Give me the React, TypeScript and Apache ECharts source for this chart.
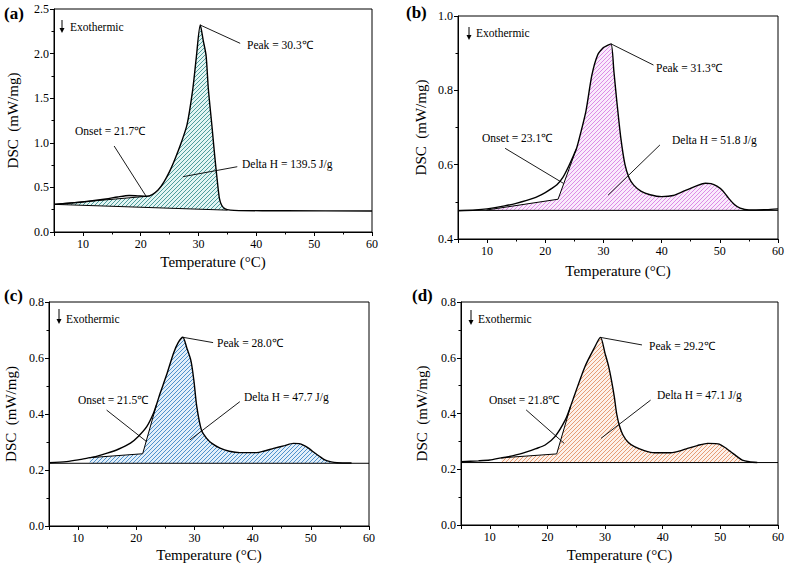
import React, { useEffect, useRef } from "react";
import * as echarts from "echarts";

type P = [number, number];

const SERIF = "'Liberation Serif', 'Times New Roman', serif";

// ---------- Panel (a) ----------
const curveA: P[] = [
  [5, 0.31], [8, 0.325], [11, 0.345], [14, 0.37], [16, 0.393], [18, 0.41], [19.5, 0.405],
  [21, 0.4], [22, 0.42], [23, 0.47], [24, 0.56], [25, 0.68], [26, 0.83], [27, 1.0],
  [28, 1.2], [29, 1.6], [29.6, 1.95], [30.3, 2.32], [30.8, 2.15], [31.3, 1.98], [31.7, 1.6],
  [32.3, 1.2], [32.8, 0.85], [33.2, 0.6], [33.6, 0.38], [34, 0.3], [34.6, 0.26],
  [35.5, 0.245], [37, 0.24], [45, 0.238], [60, 0.235],
];
const baseA: P[] = [[5, 0.31], [35, 0.245]];
const onsetA: P[] = [[5, 0.31], [21, 0.4]];
const fillEndA = 34.6;
const leadersA: P[][] = [
  [[30.3, 2.32], [37.2, 2.115]],
  [[15.4, 0.964], [20.9, 0.404]],
  [[36.7, 0.732], [27.3, 0.62]],
];

// ---------- Panel (b) ----------
const curveB: P[] = [
  [5, 0.476], [8, 0.478], [10, 0.481], [13, 0.489], [15, 0.496], [18, 0.51], [20, 0.525],
  [21, 0.535], [22, 0.546], [23, 0.565], [24, 0.595], [25, 0.63], [25.4, 0.645], [26, 0.68],
  [27, 0.745], [28, 0.84], [29, 0.895], [30, 0.915], [30.6, 0.92], [31.3, 0.925],
  [31.8, 0.85], [32.3, 0.77], [33, 0.67], [33.7, 0.6], [34.4, 0.565], [35.2, 0.545],
  [36.5, 0.528], [38, 0.519], [40, 0.514], [42, 0.517], [44, 0.53], [46, 0.543],
  [47.5, 0.55], [48.5, 0.549], [49.5, 0.542], [50.5, 0.53], [51.5, 0.51], [52.5, 0.493],
  [53.5, 0.483], [55, 0.478], [58, 0.479], [60, 0.481],
];
const baseB: P[] = [[5, 0.477], [60, 0.477]];
const onsetB: P[] = [[9.9, 0.478], [22.2, 0.507], [25.4, 0.645]];
const fillEndB = 53.5;
const leadersB: P[][] = [
  [[31.3, 0.925], [38.6, 0.868]],
  [[13.1, 0.644], [23.1, 0.55]],
  [[39.7, 0.653], [30.8, 0.518]],
];

// ---------- Panel (c) ----------
const curveC: P[] = [
  [5, 0.226], [8, 0.23], [10, 0.236], [12, 0.244], [13, 0.248], [15, 0.26], [17, 0.275],
  [19, 0.296], [20.3, 0.319], [21.8, 0.355], [22.9, 0.4], [23.5, 0.435], [24.1, 0.474],
  [25.2, 0.539], [26.4, 0.617], [27.2, 0.655], [28, 0.674], [28.7, 0.635], [29.4, 0.59],
  [29.9, 0.52], [30.4, 0.426], [31.2, 0.343], [32.1, 0.313], [33, 0.295], [34.4, 0.278],
  [36, 0.267], [37.8, 0.262], [40.7, 0.262], [42, 0.268], [43.6, 0.277], [45.5, 0.287],
  [47, 0.295], [48, 0.294], [48.7, 0.289], [49.6, 0.278], [50.4, 0.265], [51.4, 0.25],
  [52.4, 0.236], [53.5, 0.229], [54.5, 0.226], [57, 0.225],
];
const baseC: P[] = [[5, 0.224], [60, 0.224]];
const onsetC: P[] = [[12, 0.244], [21.1, 0.258], [23.5, 0.435]];
const fillEndC = 53.5;
const leadersC: P[][] = [
  [[28, 0.674], [33.2, 0.655]],
  [[14.9, 0.414], [21.8, 0.301]],
  [[37.8, 0.444], [29.2, 0.307]],
];

// ---------- Panel (d) ----------
const curveD: P[] = [
  [5, 0.227], [8, 0.23], [10, 0.233], [12, 0.241], [13, 0.244], [15.6, 0.257], [18, 0.274],
  [19.6, 0.287], [21.3, 0.317], [23.1, 0.377], [24, 0.425], [24.8, 0.472], [26.5, 0.568],
  [28, 0.63], [29.2, 0.673], [30, 0.615], [30.6, 0.57], [31.1, 0.52], [31.6, 0.46],
  [32, 0.4], [32.5, 0.355], [33.1, 0.323], [34, 0.297], [35.1, 0.281], [36.8, 0.267],
  [38.6, 0.259], [41.4, 0.259], [43, 0.266], [44.3, 0.275], [46, 0.285], [47.8, 0.293],
  [49.2, 0.292], [49.8, 0.29], [50.8, 0.278], [51.8, 0.263], [52.8, 0.247], [53.8, 0.233],
  [55, 0.227], [56.4, 0.224],
];
const baseD: P[] = [[5, 0.224], [60, 0.224]];
const onsetD: P[] = [[12, 0.241], [21.6, 0.255], [24, 0.425]];
const fillEndD = 53.8;
const leadersD: P[][] = [
  [[29.2, 0.673], [36.4, 0.646]],
  [[16.3, 0.413], [22.9, 0.293]],
  [[37.9, 0.448], [29.3, 0.311]],
];

// annotation texts
const peakLabels = ["Peak = 30.3℃", "Peak = 31.3℃", "Peak = 28.0℃", "Peak = 29.2℃"];
const onsetLabels = ["Onset = 21.7℃", "Onset = 23.1℃", "Onset = 21.5℃", "Onset = 21.8℃"];
const deltaLabels = ["Delta H = 139.5 J/g", "Delta H = 51.8 J/g", "Delta H = 47.7 J/g", "Delta H = 47.1 J/g"];
const panelTags = ["(a)", "(b)", "(c)", "(d)"];

// y axis ranges
const yMins = [0, 0.4, 0, 0];
const yMaxs = [2.5, 1.0, 0.8, 0.8];
const yIntervals = [0.5, 0.2, 0.2, 0.2];

// ---------- layout (pixels) ----------
const layout = [
  {
    grid: { left: 54, top: 9, width: 318, height: 223 },
    yGap: 34, xGap: 22,
    tag: [4, 13], exo: [62, 20, 33], exoText: [70, 27],
    peak: [247, 45], onset: [75, 131], delta: [242, 164],
  },
  {
    grid: { left: 458, top: 16, width: 320, height: 223 },
    yGap: 30, xGap: 24,
    tag: [406, 12], exo: [469, 27, 40], exoText: [476, 33],
    peak: [656, 68], onset: [482, 138], delta: [672, 140],
  },
  {
    grid: { left: 49, top: 302, width: 320, height: 224 },
    yGap: 31, xGap: 21,
    tag: [4, 295], exo: [59, 309, 324], exoText: [66, 319],
    peak: [217, 343], onset: [78, 400], delta: [244, 397],
  },
  {
    grid: { left: 461, top: 302, width: 320, height: 223 },
    yGap: 32, xGap: 22,
    tag: [412, 295], exo: [471, 310, 325], exoText: [478, 319],
    peak: [649, 346], onset: [489, 400], delta: [657, 395],
  },
];

const hatchColors = [
  { line: "rgb(78,156,156)", bg: "rgb(226,245,243)" },
  { line: "rgb(220,140,230)", bg: "rgb(250,235,252)" },
  { line: "rgb(78,145,204)", bg: "rgb(226,239,250)" },
  { line: "rgb(230,156,116)", bg: "rgb(253,241,233)" },
];

const panels = [
  { curve: curveA, base: baseA, onset: onsetA, fillEnd: fillEndA, leaders: leadersA },
  { curve: curveB, base: baseB, onset: onsetB, fillEnd: fillEndB, leaders: leadersB },
  { curve: curveC, base: baseC, onset: onsetC, fillEnd: fillEndC, leaders: leadersC },
  { curve: curveD, base: baseD, onset: onsetD, fillEnd: fillEndD, leaders: leadersD },
];

function baseAt(base: P[], x: number): number {
  const [a, b] = base;
  const t = (x - a[0]) / (b[0] - a[0]);
  return a[1] + (b[1] - a[1]) * Math.max(0, Math.min(1, t));
}

function makeHatch(line: string, bg: string) {
  const size = 4;
  const c = document.createElement("canvas");
  c.width = size;
  c.height = size;
  const ctx = c.getContext("2d")!;
  ctx.fillStyle = bg;
  ctx.fillRect(0, 0, size, size);
  ctx.fillStyle = line;
  for (let y = 0; y < size; y++) {
    const x = size - 1 - y;
    ctx.fillRect(x, y, 1, 1);
  }
  return { image: c, repeat: "repeat", imageWidth: size, imageHeight: size };
}

function buildOption() {
  const grids: any[] = [];
  const xAxes: any[] = [];
  const yAxes: any[] = [];
  const series: any[] = [];
  const graphics: any[] = [];
  const axisText = { color: "#000", fontFamily: SERIF, fontSize: 12 };

  panels.forEach((p, i) => {
    const L = layout[i];
    grids.push({ ...L.grid, show: true, borderColor: "#000", borderWidth: 1, backgroundColor: "transparent" });
    xAxes.push({
      type: "value", gridIndex: i, min: 5, max: 60, splitNumber: 5,
      name: "Temperature (°C)", nameLocation: "middle", nameGap: L.xGap,
      nameTextStyle: { color: "#000", fontFamily: SERIF, fontSize: 15 },
      axisLine: { show: true, onZero: false, lineStyle: { color: "#000", width: 1 } },
      axisTick: { show: true, inside: false, length: 4, lineStyle: { color: "#000" } },
      minorTick: { show: true, splitNumber: 2, length: 2.5, lineStyle: { color: "#000" } },
      axisLabel: { ...axisText, margin: 6, showMinLabel: false },
      splitLine: { show: false },
    });
    yAxes.push({
      type: "value", gridIndex: i, min: yMins[i], max: yMaxs[i], interval: yIntervals[i],
      name: "DSC\u00a0 (mW/mg)", nameLocation: "middle", nameGap: L.yGap, nameRotate: 90,
      nameTextStyle: { color: "#000", fontFamily: SERIF, fontSize: 15 },
      axisLine: { show: true, onZero: false, lineStyle: { color: "#000", width: 1 } },
      axisTick: { show: true, inside: false, length: 4, lineStyle: { color: "#000" } },
      minorTick: { show: true, splitNumber: 2, length: 2.5, lineStyle: { color: "#000" } },
      axisLabel: { ...axisText, margin: 5, formatter: (v: number) => v.toFixed(1) },
      splitLine: { show: false },
    });

    // fill polygon: onset line + curve segment + baseline back
    const lastOnset = p.onset[p.onset.length - 1];
    const seg = p.curve.filter((pt) => pt[0] > lastOnset[0] && pt[0] <= p.fillEnd);
    const endX = seg.length ? seg[seg.length - 1][0] : p.fillEnd;
    const poly: P[] = [
      ...p.onset,
      ...seg,
      [endX, baseAt(p.base, endX)],
      [p.onset[0][0], baseAt(p.base, p.onset[0][0])],
    ];
    const pattern = makeHatch(hatchColors[i].line, hatchColors[i].bg);
    series.push({
      type: "custom", xAxisIndex: i, yAxisIndex: i, coordinateSystem: "cartesian2d",
      data: poly, silent: true, z: 1, clip: true,
      renderItem: (params: any, api: any) => {
        if (params.dataIndex !== 0) return null;
        const pts = poly.map((q) => api.coord(q));
        return { type: "polygon", shape: { points: pts }, style: { fill: pattern, stroke: "none" } };
      },
    });

    // baseline
    series.push({
      type: "line", xAxisIndex: i, yAxisIndex: i, data: p.base, showSymbol: false, symbol: "none",
      lineStyle: { color: "#000", width: 1 }, z: 3, silent: true,
    });
    // onset construction
    series.push({
      type: "line", xAxisIndex: i, yAxisIndex: i, data: p.onset, showSymbol: false, symbol: "none",
      lineStyle: { color: "#000", width: 1 }, z: 3, silent: true,
    });
    // DSC curve
    series.push({
      type: "line", xAxisIndex: i, yAxisIndex: i, data: p.curve, showSymbol: false, symbol: "none",
      smooth: 0.25, lineStyle: { color: "#000", width: 1.4 }, z: 4, silent: true,
    });
    // leaders
    p.leaders.forEach((ld) => {
      series.push({
        type: "line", xAxisIndex: i, yAxisIndex: i, data: ld, showSymbol: false, symbol: "none",
        lineStyle: { color: "#000", width: 0.9 }, z: 5, silent: true,
      });
    });

    // graphics
    const txt = (x: number, y: number, text: string, size = 11.5, weight = "normal") => ({
      type: "text", x, y, silent: true, z: 100,
      style: { text, fontFamily: SERIF, fontSize: size, fontWeight: weight, fill: "#000", align: "left", verticalAlign: "middle" },
    });
    graphics.push(txt(L.tag[0], L.tag[1], panelTags[i], 17, "bold"));
    const [ax, ay1, ay2] = L.exo;
    graphics.push({ type: "line", silent: true, z: 100, shape: { x1: ax, y1: ay1, x2: ax, y2: ay2 - 4 }, style: { stroke: "#000", lineWidth: 1 } });
    graphics.push({ type: "polygon", silent: true, z: 100, shape: { points: [[ax - 2.5, ay2 - 5], [ax + 2.5, ay2 - 5], [ax, ay2]] }, style: { fill: "#000" } });
    graphics.push(txt(L.exoText[0], L.exoText[1], "Exothermic", 11.5));
    graphics.push(txt(L.peak[0], L.peak[1], peakLabels[i], 11.5));
    graphics.push(txt(L.onset[0], L.onset[1], onsetLabels[i], 11.5));
    graphics.push(txt(L.delta[0], L.delta[1], deltaLabels[i], 11.5));
  });

  return {
    animation: false,
    backgroundColor: "#fff",
    grid: grids,
    xAxis: xAxes,
    yAxis: yAxes,
    series,
    graphic: graphics,
  };
}

export default function App() {
  const ref = useRef<HTMLDivElement>(null);
  useEffect(() => {
    document.body.style.margin = "0";
    if (!ref.current) return;
    const chart = echarts.init(ref.current, undefined, { renderer: "svg" });
    chart.setOption(buildOption() as any);
    return () => chart.dispose();
  }, []);
  return <div ref={ref} style={{ position: "absolute", left: 0, top: 0, width: 787, height: 566 }} />;
}
